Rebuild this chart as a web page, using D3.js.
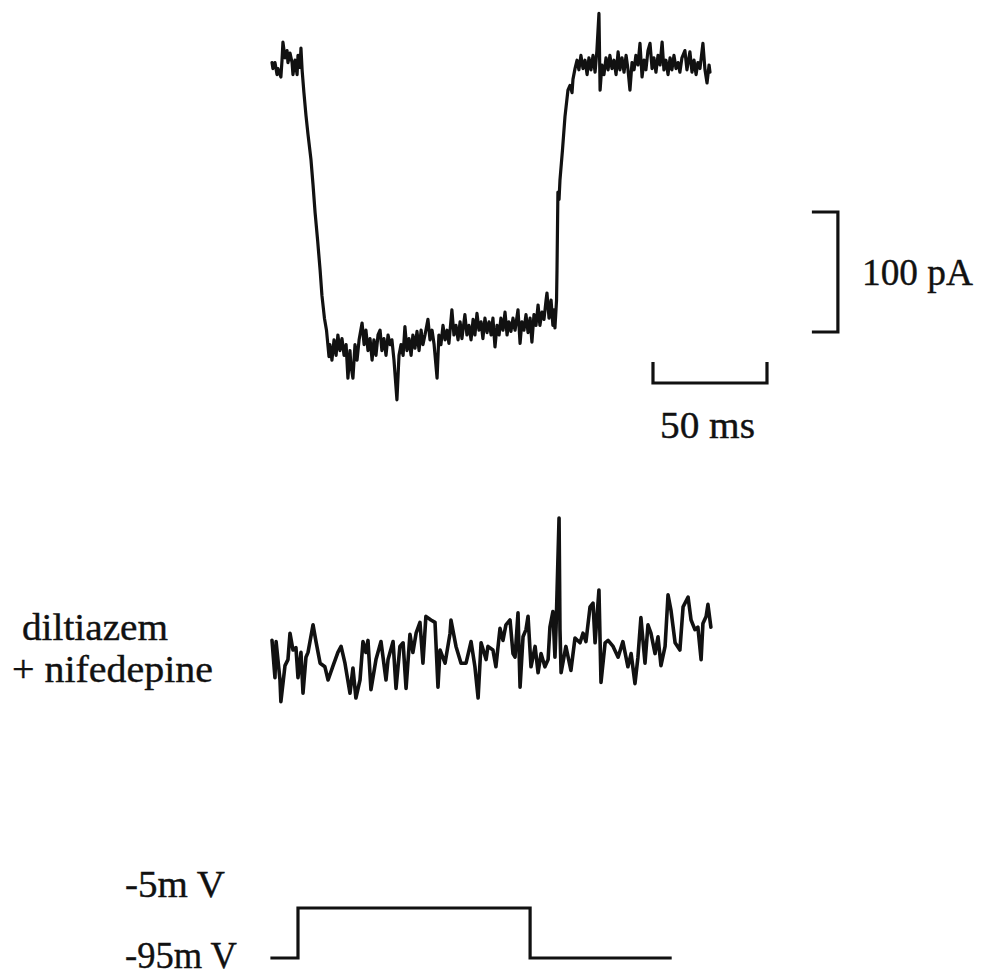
<!DOCTYPE html>
<html>
<head>
<meta charset="utf-8">
<script src="https://cdn.jsdelivr.net/npm/d3@7/dist/d3.min.js"></script>
<style>
  html, body { margin: 0; padding: 0; background: #fff; }
  svg { display: block; }
  text { font-family: "Liberation Serif", "Times New Roman", serif; fill: #111; stroke: #111; stroke-width: 0.4; }
</style>
</head>
<body>
<svg id="chart" width="981" height="976"></svg>
<script>
// Control current trace: [time (ms), current (pA)] relative to holding current
const controlTrace = [
  [0,2],[0.4,-3],[1.3,2],[2.2,-8],[2.6,-3],[3.9,-10],[4.4,4],[4.8,19],[5.7,6],[6.6,12],
  [7.0,2],[7.9,10],[8.8,2],[9.2,-8],[10.1,4],[11.0,-8],[11.4,8],[12.3,-2],[12.7,14],[13.2,-4],
  [14.0,-23],[14.9,-42],[15.8,-58],[17.1,-79],[18.0,-100],[18.9,-123],[20.0,-146],[21.1,-171],
  [21.9,-192],[23.0,-211],[23.9,-221],[25.0,-243],
  [25.4,-233],[26.3,-246],[27.2,-229],[28.1,-242],[28.9,-225],[29.8,-238],[30.7,-228],[31.6,-242],
  [32.5,-233],[33.3,-261],[34.2,-238],[34.6,-250],[35.5,-261],[36.4,-233],[37.3,-246],[38.2,-229],
  [39.5,-215],[40.4,-233],[41.2,-221],[42.1,-238],[43.0,-228],[43.9,-246],[44.7,-229],[45.6,-242],
  [46.5,-225],[47.4,-221],[48.2,-238],[49.1,-228],[50.0,-242],[50.9,-225],[51.8,-233],[52.6,-229],
  [53.5,-246],[54.8,-279],[55.7,-242],[56.6,-233],[57.5,-242],[58.3,-218],[59.2,-238],[60.1,-228],
  [61.0,-242],[61.8,-225],[62.7,-236],[63.6,-222],[64.5,-238],[65.4,-221],[66.2,-233],[67.1,-225],
  [68.4,-212],[69.3,-229],[70.2,-221],[71.1,-233],[72.4,-261],[73.2,-225],[74.1,-233],[75.0,-217],
  [75.9,-229],[76.8,-221],[77.6,-232],[78.9,-204],[79.8,-225],[80.7,-217],[81.6,-229],[82.5,-214],
  [83.3,-228],[84.6,-208],[85.5,-225],[86.4,-217],[87.3,-229],[88.2,-212],[89.0,-225],[89.9,-207],
  [90.8,-221],[91.7,-214],[92.5,-228],[93.4,-211],[94.3,-223],[95.2,-214],[96.1,-225],[96.9,-211],
  [97.8,-235],[98.7,-217],[99.6,-225],[100.4,-211],[101.3,-221],[102.2,-206],[103.1,-225],[103.9,-214],
  [104.8,-222],[105.7,-211],[106.6,-221],[107.9,-204],[108.8,-232],[109.6,-214],[110.5,-221],[111.4,-208],
  [112.3,-223],[113.2,-211],[114.0,-231],[114.9,-208],[115.8,-217],[116.7,-200],[117.5,-217],[118.4,-206],
  [119.3,-212],[120.2,-196],[120.6,-190],[121.5,-211],[122.4,-196],[123.2,-217],[123.7,-204],[124.1,-219],
  [124.8,-196],[125.0,-171],[125.4,-106],[125.9,-112],[126.3,-96],[127.4,-71],[128.5,-43],[129.8,-21],
  [130.7,-17],[131.6,-23],[132.0,-12],[132.9,-3],[133.8,4],
  [134.6,-4],[135.5,8],[136.4,-3],[137.3,4],[138.2,-8],[139.0,6],[139.9,-4],[140.8,8],
  [141.7,-6],[142.5,12],[143.4,43],[143.9,-21],[144.7,0],[145.6,-8],[146.5,6],[147.4,-4],
  [148.2,8],[149.1,-3],[150.0,4],[150.9,-8],[151.8,11],[152.6,-4],[153.5,6],[154.4,-6],
  [155.3,8],[156.1,-3],[157.0,-21],[157.9,2],[158.8,-4],[159.6,8],[160.5,0],[161.4,18],
  [162.3,-10],[163.2,4],[164.0,-4],[164.9,12],[165.8,18],[166.7,-3],[167.5,6],[168.4,-6],
  [169.3,8],[170.2,0],[171.1,19],[171.9,-4],[172.8,4],[173.7,-8],[174.6,6],[175.4,-4],
  [176.3,8],[177.2,-3],[178.1,2],[178.9,-6],[179.8,6],[181.1,12],[182.0,-4],[183.3,11],
  [184.2,-6],[185.1,4],[186.0,-8],[186.8,2],[187.7,-3],[189.0,18],[189.9,-4],[190.8,-15],
  [191.7,0],[192.1,-6]
];

// Current in diltiazem + nifedepine: [time (ms), current (pA)]
const drugTrace = [
  [0.0,8],[1.3,-23],[1.8,7],[3.5,-25],[3.9,-43],[5.7,-13],[7.0,-8],[7.9,14],[9.2,0],[10.5,2],
  [11.4,-23],[12.7,-2],[13.6,-36],[14.9,-6],[15.8,-2],[18.0,21],[19.3,7],[21.1,-11],[23.2,-14],[24.6,-25],
  [26.8,-13],[28.9,-2],[30.3,3],[32.0,-11],[34.2,-36],[35.5,-15],[36.8,-40],[38.6,-25],[39.9,7],[41.2,-2],
  [42.1,8],[43.4,-33],[45.6,-8],[47.8,7],[50.0,-25],[50.9,-8],[53.1,7],[54.4,-32],[56.1,3],[57.5,6],
  [58.8,-32],[60.5,13],[61.8,-2],[63.2,14],[64.9,23],[66.2,-11],[67.5,28],[69.7,25],[71.5,23],[72.8,-31],
  [73.7,0],[75.9,-11],[78.1,14],[78.5,25],[80.7,3],[82.9,-11],[85.1,-11],[87.3,7],[89.0,-14],[90.4,-40],
  [91.7,6],[93.9,-8],[94.7,3],[96.9,0],[98.2,-14],[100.0,18],[101.3,8],[102.6,21],[104.4,25],[105.7,-3],
  [106.6,-6],[107.9,31],[108.8,-31],[110.1,11],[111.4,17],[112.3,28],[113.6,-14],[115.4,3],[116.7,-19],[118.0,-3],
  [119.7,-14],[121.1,-8],[121.9,19],[123.2,32],[124.1,-6],[124.6,19],[125.9,110],[126.3,17],[126.8,-19],[128.9,3],
  [131.1,-17],[132.9,10],[135.1,6],[136.4,14],[137.7,7],[139.5,36],[140.8,39],[141.7,6],[143.4,50],[144.3,-27],
  [146.1,6],[147.4,8],[149.6,3],[151.8,-6],[153.9,7],[156.1,-14],[157.5,-3],[159.2,-28],[160.5,-6],[161.8,27],
  [163.6,-11],[164.9,21],[166.2,14],[168.0,-3],[169.3,11],[170.6,-13],[172.4,3],[173.7,46],[175.0,33],[176.8,6],
  [178.9,0],[180.3,36],[182.5,44],[183.8,25],[185.5,17],[186.8,19],[188.2,-8],[189.0,22],[190.4,28],[191.2,38],
  [192.5,19]
];

// Voltage protocol: [time (ms), command potential (mV)]
const voltageProtocol = [[0,-95],[11.4,-5],[113.2,-95],[174.6,-95]];
const voltageLabels = ["-5m V", "-95m V"];

// Calibration bars
const scaleBarTime = 50;      // ms
const scaleBarCurrent = 100;  // pA
const scaleBarLabels = ["50 ms", "100 pA"];
const drugLabels = ["diltiazem", "+ nifedepine"];

const svg = d3.select("#chart");
svg.append("rect").attr("width", 981).attr("height", 976).attr("fill", "#fff");

// Shared time axis: 50 ms spans 114 px
const x = d3.scaleLinear().domain([0, 50]).range([272, 386]);
// Current axes: 100 pA spans 120 px
const yControl = d3.scaleLinear().domain([-100, 0]).range([185, 65]);
const yDrug = d3.scaleLinear().domain([-100, 0]).range([770, 650]);
const yVolt = d3.scaleLinear().domain([-95, -5]).range([958, 908]);

const traceLine = y => d3.line().x(d => x(d[0])).y(d => y(d[1]));

const traceStyle = (sel, w) => sel
  .attr("fill", "none")
  .attr("stroke", "#111")
  .attr("stroke-width", w)
  .attr("stroke-linejoin", "round")
  .attr("stroke-linecap", "round");

svg.append("path").datum(controlTrace).attr("d", traceLine(yControl)).call(traceStyle, 3.2);
svg.append("path").datum(drugTrace).attr("d", traceLine(yDrug)).call(traceStyle, 3.6);

svg.append("path").datum(voltageProtocol)
  .attr("d", d3.line().x(d => x(d[0])).y(d => yVolt(d[1])).curve(d3.curveStepAfter))
  .attr("fill", "none").attr("stroke", "#111").attr("stroke-width", 3.2)
  .attr("stroke-linecap", "square");

// Time calibration bar (with end ticks)
const tBar0 = 167.1;
const barY = 383, tickLen = 21;
svg.append("path")
  .attr("d", `M${x(tBar0)},${barY - tickLen}V${barY}H${x(tBar0 + scaleBarTime)}V${barY - tickLen}`)
  .attr("fill", "none").attr("stroke", "#111").attr("stroke-width", 3.2);

// Current calibration bar (bracket)
const tBarV = 248.2, iTop = -122.5, bracket = 26;
svg.append("path")
  .attr("d", `M${x(tBarV) - bracket},${yControl(iTop)}H${x(tBarV)}V${yControl(iTop - scaleBarCurrent)}H${x(tBarV) - bracket}`)
  .attr("fill", "none").attr("stroke", "#111").attr("stroke-width", 3.2);

svg.append("text").attr("x", 660).attr("y", 438).attr("font-size", 38)
  .attr("textLength", 95).attr("lengthAdjust", "spacingAndGlyphs").text(scaleBarLabels[0]);
svg.append("text").attr("x", 862).attr("y", 285).attr("font-size", 38)
  .attr("textLength", 111).attr("lengthAdjust", "spacingAndGlyphs").text(scaleBarLabels[1]);

svg.append("text").attr("x", 22).attr("y", 640).attr("font-size", 38)
  .attr("textLength", 146).attr("lengthAdjust", "spacingAndGlyphs").text(drugLabels[0]);
svg.append("text").attr("x", 12).attr("y", 682).attr("font-size", 38)
  .attr("textLength", 201).attr("lengthAdjust", "spacingAndGlyphs").text(drugLabels[1]);

const voltLabelY = [897, 968];
voltageLabels.forEach((t, i) => {
  svg.append("text").attr("x", 125).attr("y", voltLabelY[i]).attr("font-size", 38)
    .attr("textLength", i === 0 ? 100 : 112).attr("lengthAdjust", "spacingAndGlyphs").text(t);
});
</script>
</body>
</html>
